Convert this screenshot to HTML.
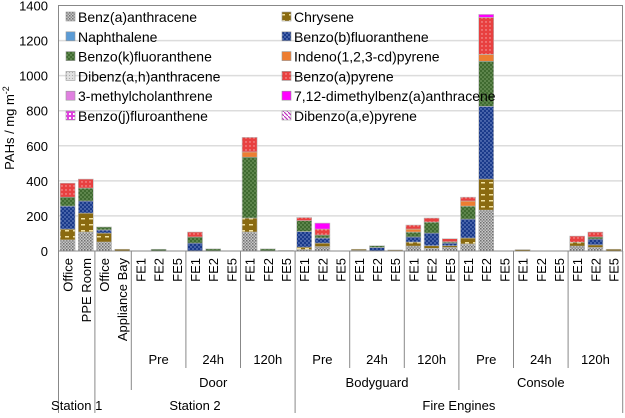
<!DOCTYPE html>
<html><head><meta charset="utf-8">
<style>
html,body{margin:0;padding:0;background:#fff;}
svg text{font-family:"Liberation Sans",Arial,sans-serif;fill:#000;}
</style></head>
<body>
<svg id="chart" width="625" height="413" viewBox="0 0 625 413" xmlns="http://www.w3.org/2000/svg">
<defs>
<pattern id="p-gray" width="3" height="3" patternUnits="userSpaceOnUse"><rect width="3" height="3" fill="#c8c8c8"/><rect width="1.5" height="1.5" fill="#707070"/><rect x="1.5" y="1.5" width="1.5" height="1.5" fill="#8a8a8a"/></pattern>
<pattern id="p-olive" width="8" height="6" patternUnits="userSpaceOnUse"><rect width="8" height="6" fill="#8a6a10"/><rect x="1" y="2" width="4" height="1.5" fill="#f0e0a0"/></pattern>
<pattern id="p-blue" width="4" height="4" patternUnits="userSpaceOnUse"><rect width="4" height="4" fill="#1a3a8a"/><circle cx="1" cy="1" r="0.7" fill="#8aa0d8"/><circle cx="3" cy="3" r="0.7" fill="#8aa0d8"/></pattern>
<pattern id="p-green" width="4" height="4" patternUnits="userSpaceOnUse"><rect width="4" height="4" fill="#3f6a30"/><circle cx="1" cy="1" r="0.6" fill="#a8c890"/><circle cx="3" cy="3" r="0.6" fill="#a8c890"/></pattern>
<pattern id="p-red" width="4" height="4" patternUnits="userSpaceOnUse"><rect width="4" height="4" fill="#e84040"/><circle cx="2" cy="2" r="0.7" fill="#f8b0b0"/></pattern>
<pattern id="p-lgray" width="3" height="3" patternUnits="userSpaceOnUse"><rect width="3" height="3" fill="#e0e0e0"/><rect width="1" height="1" fill="#aaa"/></pattern>
<pattern id="p-pinkj" width="4" height="4" patternUnits="userSpaceOnUse"><rect width="4" height="4" fill="#e040e0"/><rect x="1" y="1" width="2" height="2" fill="#fff"/></pattern>
<pattern id="p-diag" width="4" height="4" patternUnits="userSpaceOnUse"><rect width="4" height="4" fill="#fff"/><path d="M0,0 L4,4" stroke="#c030c0" stroke-width="1.2"/></pattern>
</defs>
<g id="grid"></g>
<g id="bars"></g>
<rect x="58.5" y="5.5" width="564" height="245.5" fill="none" stroke="#888" stroke-width="1"/>
<g id="yaxis"></g>
<text transform="translate(14,128) rotate(-90)" text-anchor="middle" font-size="13">PAHs / mg m<tspan dy="-5" font-size="9">-2</tspan></text>
<g id="xaxis"></g>
<g id="legend"></g>
</svg>
<script>
const categories = ["Office","PPE Room","Office","Appliance Bay","FE1","FE2","FE5","FE1","FE2","FE5","FE1","FE2","FE5","FE1","FE2","FE5","FE1","FE2","FE5","FE1","FE2","FE5","FE1","FE2","FE5","FE1","FE2","FE5","FE1","FE2","FE5"];
const seriesNames = ["Benz(a)anthracene","Chrysene","Naphthalene","Benzo(b)fluoranthene","Benzo(k)fluoranthene","Indeno(1,2,3-cd)pyrene","Dibenz(a,h)anthracene","Benzo(a)pyrene","3-methylcholanthrene","7,12-dimethylbenz(a)anthracene","Benzo(j)fluroanthene","Dibenzo(a,e)pyrene"];
const benzAnthracene = [63,108,51,0, 0,0,0, 0,0,0, 108,0,0, 8,25,0, 3,0,0, 28,15,20, 40,233,0, 0,0,0, 28,20,0];
const chrysene = [62,108,51,10, 0,0,0, 0,0,0, 80,0,3, 14,20,0, 7,0,6, 23,15,10, 34,177,0, 8,0,0, 22,15,10];
const naphthalene = [0,0,0,0, 0,0,0, 0,0,0, 0,0,0, 0,0,0, 0,0,0, 0,0,0, 0,0,0, 0,0,0, 0,0,0];
const benzoB = [131,69,18,0, 0,0,0, 45,0,0, 0,0,0, 89,29,0, 0,20,0, 29,72,15, 108,415,0, 0,0,0, 0,33,0];
const benzoK = [51,74,17,0, 0,10,0, 35,12,0, 347,12,0, 62,17,0, 0,10,0, 28,63,7, 74,257,0, 0,0,0, 0,12,0];
const indeno = [0,0,0,0, 0,0,0, 0,0,0, 30,0,0, 0,0,0, 0,0,0, 17,0,0, 29,39,0, 0,0,0, 0,0,0];
const dibenzAH = [0,0,0,0, 0,0,0, 0,0,0, 0,0,0, 0,0,0, 0,0,0, 0,0,0, 0,0,0, 0,0,0, 0,0,0];
const benzoAPyrene = [80,51,0,0, 0,0,0, 28,0,0, 83,0,0, 18,34,0, 0,0,0, 23,23,18, 22,211,0, 0,0,0, 35,28,0];
const methylchol = [0,0,0,0, 0,0,0, 0,0,0, 0,0,0, 0,0,0, 0,0,0, 0,0,0, 0,0,0, 0,0,0, 0,0,0];
const dimethylBA = [0,0,0,0, 0,0,0, 0,0,0, 0,0,0, 0,34,0, 0,0,0, 0,0,0, 0,17,0, 0,0,0, 0,0,0];
const benzoJ = [0,0,0,0, 0,0,0, 0,0,0, 0,0,0, 0,0,0, 0,0,0, 0,0,0, 0,0,0, 0,0,0, 0,0,0];
const dibenzoAE = [0,0,0,0, 0,0,0, 0,0,0, 0,0,0, 0,0,0, 0,0,0, 0,0,0, 0,0,0, 0,0,0, 0,0,0];
const yTicks = [0,200,400,600,800,1000,1200,1400];
const level2 = [["Pre",4,7],["24h",7,10],["120h",10,13],["Pre",13,16],["24h",16,19],["120h",19,22],["Pre",22,25],["24h",25,28],["120h",28,31]];
const level3 = [["Door",4,13],["Bodyguard",13,22],["Console",22,31]];
const level4 = [["Station 1",0,2],["Station 2",2,13],["Fire Engines",13,31]];

const NS="http://www.w3.org/2000/svg";
const X0=58.5, SLOT=18.2, BW=15, Y0=251, YTOP=5.5, YMAX=1400;
function y(v){return Y0-(v/YMAX)*(Y0-YTOP);}
function xs(i){return X0+SLOT*i;}
function mk(tag,attrs,parent){const e=document.createElementNS(NS,tag);for(const k in attrs)e.setAttribute(k,attrs[k]);parent.appendChild(e);return e;}

const fills=["url(#p-gray)","url(#p-olive)","#5b9bd5","url(#p-blue)","url(#p-green)","#ed7d31","url(#p-lgray)","url(#p-red)","#e080e0","#ff00ff","url(#p-pinkj)","url(#p-diag)"];
const legendFills=fills;
const series=[benzAnthracene,chrysene,naphthalene,benzoB,benzoK,indeno,dibenzAH,benzoAPyrene,methylchol,dimethylBA,benzoJ,dibenzoAE];
const stackOrder=[0,1,2,3,4,5,6,7,8,9,10,11];

const grid=document.getElementById('grid');
yTicks.forEach(t=>{ if(t>0&&t<YMAX){const l=mk('line',{x1:X0,x2:622.5,y1:y(t),y2:y(t),stroke:'#dcdcdc','stroke-width':1.5},grid);

}});
const ya=document.getElementById('yaxis');
yTicks.forEach(t=>{const tx=mk('text',{x:48,y:y(t)+5,'text-anchor':'end','font-size':13},ya);tx.textContent=t;

});

const bars=document.getElementById('bars');
categories.forEach((c,i)=>{
  let acc=0;
  stackOrder.forEach(s=>{
    const v=series[s][i]; if(!v) return;
    const r=mk('rect',{x:xs(i)+(SLOT-BW)/2,y:y(acc+v),width:BW,height:y(acc)-y(acc+v),fill:fills[s],stroke:'#bbb','stroke-width':0.6},bars);
    
    
    acc+=v;
  });
});

const xa=document.getElementById('xaxis');
categories.forEach((c,i)=>{
  const cx=xs(i)+SLOT/2+5;
  const t=mk('text',{transform:`translate(${cx},258) rotate(-90)`,'text-anchor':'end','font-size':13},xa);
  t.textContent=c;
  
  
});
function vline(x,y2){const l=mk('line',{x1:x,x2:x,y1:251,y2:y2,stroke:'#888','stroke-width':1},xa);

}
// separators
[0,2,13,31].forEach(i=>vline(xs(i),413));
vline(xs(4),390); vline(xs(22),390);
[7,10,16,19,25,28].forEach(i=>vline(xs(i),368));
function glabel(arr,yy,name){arr.forEach(g=>{const t=mk('text',{x:(xs(g[1])+xs(g[2]))/2,y:yy,'text-anchor':'middle','font-size':13},xa);t.textContent=g[0];

});}
glabel(level2,364,'x-time-label');
glabel(level3,387,'x-surface-label');
glabel(level4,410,'x-location-label');

const lg=document.getElementById('legend');
seriesNames.forEach((n,k)=>{
  const col=k%2, row=Math.floor(k/2);
  const lx=col?282:66, ly=17+row*19.8;
  const sw=mk('rect',{x:lx,y:ly-5,width:9,height:9,fill:legendFills[k],stroke:'#999','stroke-width':0.6},lg);
  
  
  const t=mk('text',{x:lx+12,y:ly+5,'font-size':14},lg);
  t.textContent=n;
  
  
});
</script>
</body></html>
